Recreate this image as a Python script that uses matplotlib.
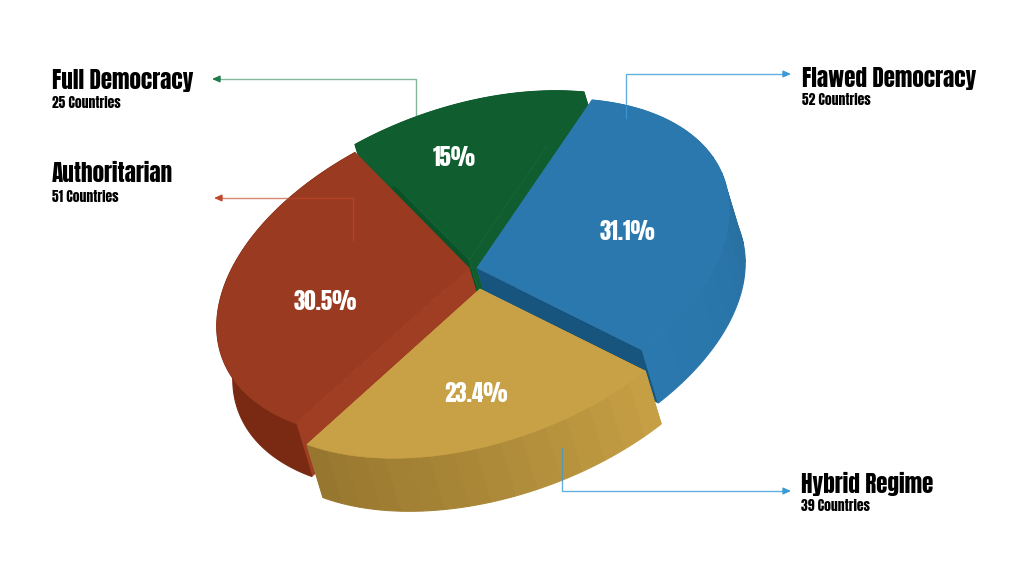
import numpy as np
import matplotlib
matplotlib.use("Agg")
import matplotlib.pyplot as plt
from matplotlib.colors import to_rgb
from matplotlib.patches import Polygon

names = ["Flawed Democracy", "Hybrid Regime", "Authoritarian", "Full Democracy"]
shares = [31.1, 23.4, 30.5, 15.0]
share_labels = ["31.1%", "23.4%", "30.5%", "15%"]
countries = [52, 39, 51, 25]

###################################################
# Look of the pie, in pixels of the 1024x564 image
###################################################
AXIS_A = np.array([115.0, -168.0])
AXIS_B = np.array([224.5, 20.7])
EXTRUDE = np.array([16.0, 53.0])
apexes = [(477, 268), (480, 289), (469, 268), (469, 260)]
top_colors = ["#2a78ae", "#c8a045", "#9a3a20", "#105d30"]
cut_colors = [("#2a78ae", "#17557f"), ("#c8a045", "#c8a045"),
              ("#a03e24", "#a03e24"), ("#0a5228", "#105d30")]
wall_stops = [["#2a78ae", "#2a78ae", "#286f9f", "#2976aa", "#2a78ae"],
              ["#c8a045", "#ab8838", "#96762f"],
              ["#7a2a12", "#7a2a12"],
              ["#105d30", "#105d30"]]
wall_bands = [16, 16, 1, 1]
label_pos = [(627, 231), (476, 394), (325, 302), (454, 157)]
draw_order = [3, 2, 0, 1]

title_pos = [(802, 78), (801, 484), (52, 173), (52, 80)]
sub_pos = [(802, 100), (801, 506), (52, 197), (52, 103)]

leaders = [
    ([626, 626, 783], [118, 74, 74], "#3b9ad6", 0.8),
    ([562, 562, 783], [448, 491, 491], "#3b9ad6", 0.8),
    ([353, 353, 222], [240, 198, 198], "#c0492c", 0.65),
    ([416, 416, 220], [115, 79, 79], "#1f7a4c", 0.55),
]

TITLE_FONT = ["Anton", "Roboto", "DejaVu Sans"]


def arc(t):
    return np.outer(np.cos(t), AXIS_A) + np.outer(np.sin(t), AXIS_B)


def mix(stops, f):
    cols = np.array([to_rgb(c) for c in stops])
    pos = np.linspace(0, 1, len(stops))
    return tuple(np.interp(f, pos, cols[:, i]) for i in range(3))


fig = plt.figure(figsize=(10.24, 5.64), dpi=100)
ax = fig.add_axes([0, 0, 1, 1])
ax.set_xlim(0, 1024)
ax.set_ylim(564, 0)
ax.axis("off")

edges = np.concatenate([[0], np.cumsum(shares)]) / np.sum(shares) * 2 * np.pi

for i in draw_order:
    apex = np.array(apexes[i], dtype=float)
    t = np.linspace(edges[i], edges[i + 1], 121)
    outer = apex + arc(t)

    # the two cut faces
    for corner, col in zip([outer[0], outer[-1]], cut_colors[i]):
        poly = np.array([apex, corner, corner + EXTRUDE, apex + EXTRUDE])
        ax.add_patch(Polygon(poly, closed=True, fc=col, ec=col, lw=0.4))

    # outer wall, cut in bands so the shading steps like the original
    bands = wall_bands[i]
    for b in range(bands):
        j0 = b * 120 // bands
        j1 = (b + 1) * 120 // bands
        seg = outer[j0:j1 + 1]
        poly = np.vstack([seg, seg[::-1] + EXTRUDE])
        c = mix(wall_stops[i], (b + 0.5) / bands)
        ax.add_patch(Polygon(poly, closed=True, fc=c, ec=c, lw=0.8))

    top = np.vstack([apex, outer])
    ax.add_patch(Polygon(top, closed=True, fc=top_colors[i], ec=top_colors[i], lw=0.4))

for i in range(len(names)):
    ax.text(label_pos[i][0], label_pos[i][1], share_labels[i], color="white",
            fontsize=16.5, family=TITLE_FONT, ha="center", va="center")
    ax.text(title_pos[i][0], title_pos[i][1], names[i], color="black",
            fontsize=16.7, family=TITLE_FONT, ha="left", va="center")
    ax.text(sub_pos[i][0], sub_pos[i][1], f"{countries[i]} Countries", color="black",
            fontsize=9.8, family=TITLE_FONT, ha="left", va="center")

for xs, ys, col, alpha in leaders:
    ax.plot(xs, ys, color=col, lw=1.0, solid_joinstyle="miter", alpha=alpha)
    ax.annotate("", xy=(xs[-1] + np.sign(xs[-1] - xs[-2]) * 8, ys[-1]), xytext=(xs[-1], ys[-1]),
                arrowprops=dict(arrowstyle="-|>,head_length=0.45,head_width=0.2",
                                color=col, lw=1, shrinkA=0, shrinkB=0))

fig.savefig("out.png", dpi=100, facecolor="white")
